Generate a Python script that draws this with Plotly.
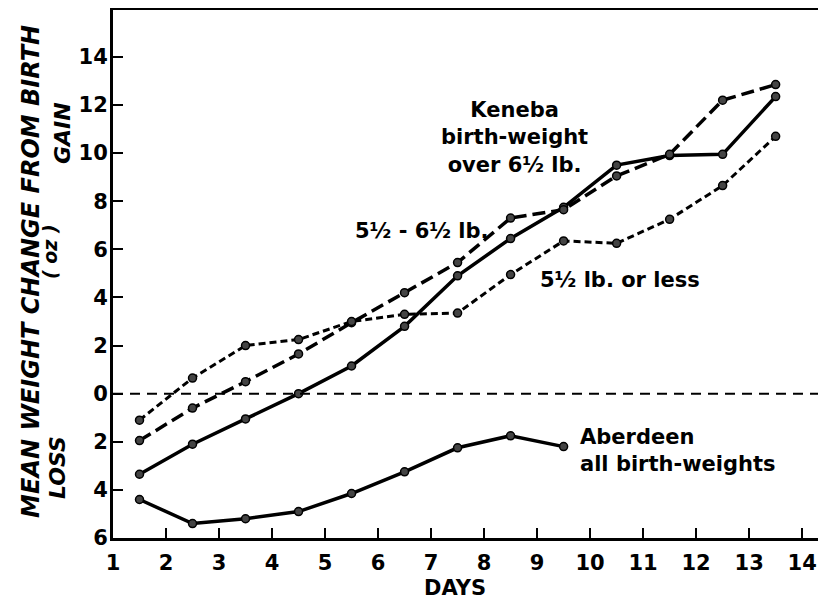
import plotly.graph_objects as go

# ---- data ----
days = [1.5, 2.5, 3.5, 4.5, 5.5, 6.5, 7.5, 8.5, 9.5, 10.5, 11.5, 12.5, 13.5]
keneba_over_6_5 = [-3.35, -2.1, -1.05, 0.0, 1.15, 2.8, 4.9, 6.45, 7.75, 9.5, 9.9, 9.95, 12.35]
keneba_5_5_to_6_5 = [-1.95, -0.6, 0.5, 1.65, 2.95, 4.2, 5.45, 7.3, 7.65, 9.05, 9.95, 12.2, 12.85]
keneba_5_5_or_less = [-1.1, 0.65, 2.0, 2.25, 3.0, 3.3, 3.35, 4.95, 6.35, 6.25, 7.25, 8.65, 10.7]
aberdeen_days = [1.5, 2.5, 3.5, 4.5, 5.5, 6.5, 7.5, 8.5, 9.5]
aberdeen_all = [-4.4, -5.4, -5.2, -4.9, -4.15, -3.25, -2.25, -1.75, -2.2]

y_tickvals = [-6, -4, -2, 0, 2, 4, 6, 8, 10, 12, 14]
y_ticktext = ["6", "4", "2", "0", "2", "4", "6", "8", "10", "12", "14"]
x_tickvals = list(range(1, 15))

FONT = "DejaVu Sans"
marker = dict(symbol="circle", size=8, color="#444444", line=dict(color="black", width=1.5))

fig = go.Figure()
fig.add_trace(go.Scatter(x=days, y=keneba_over_6_5, mode="lines+markers",
                         line=dict(color="black", width=3.5), marker=marker,
                         name="Keneba over 6½ lb."))
fig.add_trace(go.Scatter(x=days, y=keneba_5_5_to_6_5, mode="lines+markers",
                         line=dict(color="black", width=3.5, dash="13px,6px"), marker=marker,
                         name="5½ - 6½ lb."))
fig.add_trace(go.Scatter(x=days, y=keneba_5_5_or_less, mode="lines+markers",
                         line=dict(color="black", width=3, dash="7px,4px"), marker=marker,
                         name="5½ lb. or less"))
fig.add_trace(go.Scatter(x=aberdeen_days, y=aberdeen_all, mode="lines+markers",
                         line=dict(color="black", width=3.5), marker=marker,
                         name="Aberdeen all birth-weights"))

fig.add_hline(y=0, line=dict(color="black", width=2, dash="10px,7px"))

tickfont = dict(family=FONT, size=21, color="black", weight="bold")

# page body has an 8px margin: figure is 818x593 so that it ends at the window edge
fig.update_layout(
    width=818, height=593,
    margin=dict(l=105, r=0, t=2, b=63),
    paper_bgcolor="white", plot_bgcolor="white",
    showlegend=False,
    xaxis=dict(range=[1, 14.45], tickvals=x_tickvals, ticks="inside", ticklen=10,
               tickwidth=2, tickcolor="black", showline=True, linewidth=3,
               linecolor="black", mirror=True, showgrid=False, zeroline=False,
               tickfont=tickfont, ticklabelstandoff=4, automargin=False),
    yaxis=dict(range=[-6, 15.95], tickvals=y_tickvals, ticktext=y_ticktext,
               ticks="inside", ticklen=10, tickwidth=2, tickcolor="black",
               showline=True, linewidth=3, linecolor="black", showgrid=False,
               zeroline=False, tickfont=tickfont, ticklabelstandoff=-2, automargin=False),
    yaxis2=dict(range=[-6, 15.95], overlaying="y", side="right", tickvals=y_tickvals,
                ticks="inside", ticklen=6, tickwidth=2.5, tickcolor="black",
                showticklabels=False, showline=False, showgrid=False, zeroline=False,
                automargin=False),
)

lab = dict(family=FONT, size=21, color="black", weight="bold")
ann = [
    dict(x=8.58, y=10.67, text="Keneba<br>birth-weight<br>over 6½ lb.", align="center",
         xanchor="center", yanchor="middle", font=lab),
    dict(x=5.53, y=6.75, text="5½ - 6½ lb.", xanchor="left", yanchor="middle", font=lab),
    dict(x=9.02, y=4.72, text="5½ lb. or less", xanchor="left", yanchor="middle", font=lab),
    dict(x=9.78, y=-2.35, text="Aberdeen<br>all birth-weights", align="left",
         xanchor="left", yanchor="middle", font=lab),
]
for a in ann:
    a.update(xref="x", yref="y", showarrow=False)
    fig.add_annotation(**a)

side = dict(family=FONT, size=22, color="black", weight="bold", style="italic")
fig.add_annotation(xref="paper", yref="paper", x=-0.115, y=0.504, textangle=-90,
                   text="MEAN WEIGHT CHANGE FROM BIRTH", showarrow=False,
                   xanchor="center", yanchor="middle",
                   font=dict(family=FONT, size=24, color="black", weight="bold", style="italic"))
fig.add_annotation(xref="paper", yref="paper", x=-0.088, y=0.542, textangle=-90,
                   text="( oz )", showarrow=False, xanchor="center", yanchor="middle",
                   font=dict(family=FONT, size=19, color="black", weight="bold", style="italic"))
fig.add_annotation(xref="paper", yref="paper", x=-0.0715, y=0.767, textangle=-90,
                   text="GAIN", showarrow=False, xanchor="center", yanchor="middle", font=side)
fig.add_annotation(xref="paper", yref="paper", x=-0.077, y=0.133, textangle=-90,
                   text="LOSS", showarrow=False, xanchor="center", yanchor="middle", font=side)
fig.add_annotation(xref="paper", yref="paper", x=0.48, y=-0.094,
                   text="DAYS", showarrow=False, xanchor="center", yanchor="middle",
                   font=dict(family=FONT, size=21, color="black", weight="bold"))

fig.write_html("out.html")
